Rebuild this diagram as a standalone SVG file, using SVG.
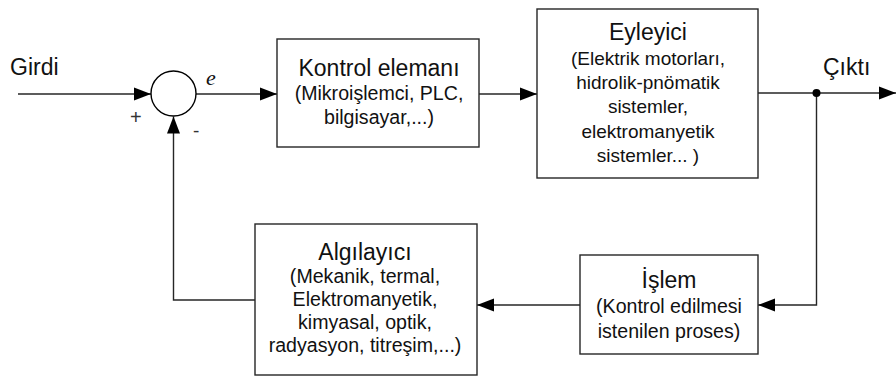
<svg xmlns="http://www.w3.org/2000/svg" width="896" height="376" viewBox="0 0 896 376">
<defs>
<style>
.box{fill:#fff;stroke:#262626;stroke-width:1.4}
.ln{fill:none;stroke:#262626;stroke-width:1.4}
.t{font-family:"Liberation Sans",Arial,sans-serif;fill:#111;text-anchor:middle}
.h{font-size:23px}
.s{font-size:19.6px}
.s2{font-size:19px}
.lbl{font-family:"Liberation Sans",Arial,sans-serif;font-size:23px;fill:#111}
</style>
<marker id="ah" markerUnits="userSpaceOnUse" markerWidth="18" markerHeight="14" refX="17" refY="7" orient="auto">
<path d="M0,0.5 L17,7 L0,13.5 Z" fill="#000"/>
</marker>
</defs>
<rect width="896" height="376" fill="#fff"/>

<g id="connectors">
<line class="ln" x1="18" y1="94" x2="151" y2="94" marker-end="url(#ah)"/>
<line class="ln" x1="196" y1="94" x2="277" y2="94" marker-end="url(#ah)"/>
<line class="ln" x1="479" y1="94" x2="537" y2="94" marker-end="url(#ah)"/>
<line class="ln" x1="758" y1="93" x2="896" y2="93" marker-end="url(#ah)"/>
<polyline class="ln" points="816.5,93 816.5,305 758,305" marker-end="url(#ah)"/>
<line class="ln" x1="580" y1="305" x2="477" y2="305" marker-end="url(#ah)"/>
<polyline class="ln" points="255,300 173.5,300 173.5,116.5" marker-end="url(#ah)"/>
<circle cx="816.5" cy="93" r="4" fill="#000"/>
</g>

<g id="sum">
<circle cx="173.5" cy="93.5" r="22.5" fill="#fff" stroke="#000" stroke-width="1.4"/>
<text x="130" y="124" font-family="Liberation Sans,Arial,sans-serif" font-size="20" fill="#333">+</text>
<text x="193" y="137" font-family="Liberation Sans,Arial,sans-serif" font-size="19" fill="#333">-</text>
<text x="206" y="85" font-family="Liberation Serif,Times New Roman,serif" font-style="italic" font-size="22" fill="#111">e</text>
</g>

<g id="girdi"><text class="lbl" x="10" y="75">Girdi</text></g>
<g id="cikti"><text class="lbl" x="823" y="75">Çıktı</text></g>

<g id="kontrol">
<rect class="box" x="277" y="39" width="202" height="108"/>
<text class="t h" x="379" y="76">Kontrol elemanı</text>
<text class="t s" x="379" y="100">(Mikroişlemci, PLC,</text>
<text class="t s" x="379" y="124">bilgisayar,...)</text>
</g>

<g id="eyleyici">
<rect class="box" x="537" y="9" width="221" height="169"/>
<text class="t h" x="648" y="40">Eyleyici</text>
<text class="t s2" x="648" y="64.5">(Elektrik motorları,</text>
<text class="t s2" x="648" y="89">hidrolik-pnömatik</text>
<text class="t s2" x="648" y="113">sistemler,</text>
<text class="t s2" x="648" y="137.5">elektromanyetik</text>
<text class="t s2" x="648" y="162">sistemler... )</text>
</g>

<g id="islem">
<rect class="box" x="580" y="255" width="178" height="99"/>
<text class="t h" x="669" y="288">İşlem</text>
<text class="t s" x="669" y="313">(Kontrol edilmesi</text>
<text class="t s" x="669" y="338">istenilen proses)</text>
</g>

<g id="algilayici">
<rect class="box" x="255" y="224" width="222" height="151"/>
<text class="t h" x="365" y="260">Algılayıcı</text>
<text class="t s" x="365" y="283">(Mekanik, termal,</text>
<text class="t s" x="365" y="306">Elektromanyetik,</text>
<text class="t s" x="365" y="329">kimyasal, optik,</text>
<text class="t s" x="365" y="352">radyasyon, titreşim,...)</text>
</g>
</svg>
